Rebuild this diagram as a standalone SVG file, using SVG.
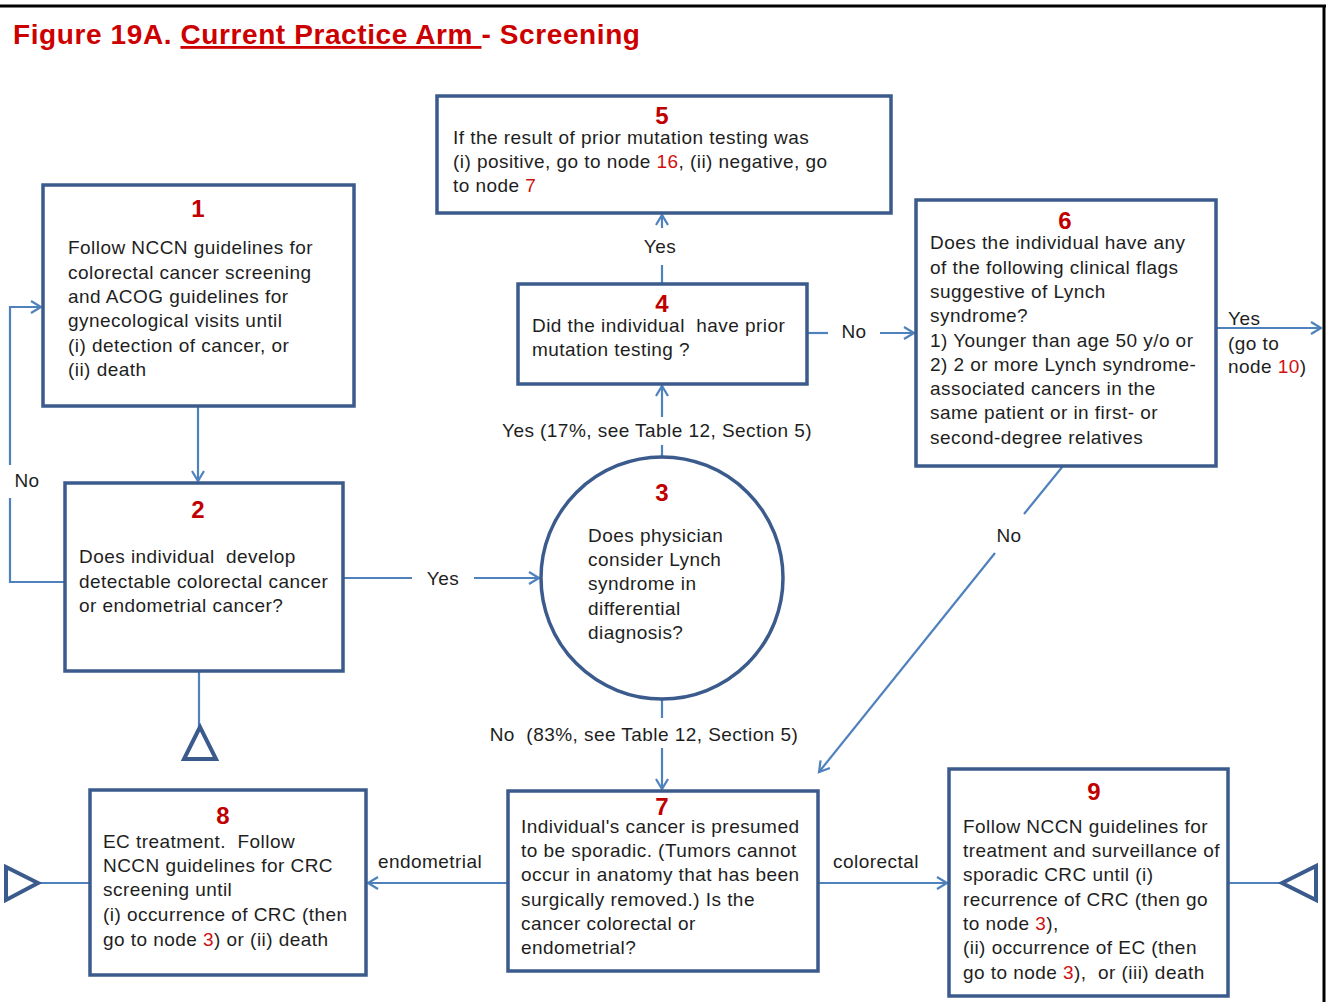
<svg xmlns="http://www.w3.org/2000/svg" width="1327" height="1002" viewBox="0 0 1327 1002">
<style>
.box{fill:#fff;stroke:#3B5B8D;stroke-width:3.5}
.c{fill:none;stroke:#4F81BD;stroke-width:2.2}
.t{font-family:"Liberation Sans",Arial,sans-serif;font-size:19px;letter-spacing:0.45px;fill:#1e1e1e;white-space:pre}
.n{font-family:"Liberation Sans",Arial,sans-serif;font-size:24px;font-weight:bold;fill:#C00000;text-anchor:middle}
.r{fill:#D01010}
.tri{fill:#fff;stroke:#3B5B8D;stroke-width:4}
</style>
<defs>
<marker id="arr" markerWidth="14" markerHeight="14" refX="11" refY="7" orient="auto" markerUnits="userSpaceOnUse">
<path d="M1,1 L11,7 L1,13" fill="none" stroke="#4F81BD" stroke-width="2.2"/>
</marker>
</defs>
<rect width="1327" height="1002" fill="#fff"/>
<line x1="0" y1="6" x2="1326" y2="6" stroke="#000" stroke-width="3"/>
<line x1="1324" y1="5" x2="1324" y2="1002" stroke="#000" stroke-width="3"/>
<g id="title">
<text x="13" y="44" font-family="Liberation Sans,Arial,sans-serif" font-size="28" letter-spacing="0.6" font-weight="bold" fill="#CC0000" style="white-space:pre">Figure 19A. <tspan text-decoration="underline">Current Practice Arm </tspan>- Screening</text>
</g>
<g id="connectors">
<path class="c" d="M198,406 V481" marker-end="url(#arr)"/>
<path class="c" d="M65,582 H10 V498"/>
<path class="c" d="M10,465 V307 H41" marker-end="url(#arr)"/>
<path class="c" d="M343,578 H412"/>
<path class="c" d="M474,578 H539" marker-end="url(#arr)"/>
<path class="c" d="M662,456 V445"/>
<path class="c" d="M662,417 V386" marker-end="url(#arr)"/>
<path class="c" d="M662,284 V265"/>
<path class="c" d="M662,228 V215" marker-end="url(#arr)"/>
<path class="c" d="M807,333 H828"/>
<path class="c" d="M880,333 H914" marker-end="url(#arr)"/>
<path class="c" d="M1216,328 H1321" marker-end="url(#arr)"/>
<path class="c" d="M1063,466 L1024,514"/>
<path class="c" d="M995,553 L819,772" marker-end="url(#arr)"/>
<path class="c" d="M662,700 V718"/>
<path class="c" d="M662,748 V789" marker-end="url(#arr)"/>
<path class="c" d="M508,883 H368" marker-end="url(#arr)"/>
<path class="c" d="M818,883 H947" marker-end="url(#arr)"/>
<path class="c" d="M199,671 V727"/>
<path class="c" d="M90,883 H38"/>
<path class="c" d="M1228,883 H1282"/>
<polygon class="tri" points="200,727 184,759 216,759"/>
<polygon class="tri" points="38,883 6,867 6,900"/>
<polygon class="tri" points="1282,883 1316,866 1316,900"/>
<text class="t" x="27" y="487" text-anchor="middle">No</text>
<text class="t" x="443" y="585" text-anchor="middle">Yes</text>
<text class="t" x="657" y="437" text-anchor="middle">Yes (17%, see Table 12, Section 5)</text>
<text class="t" x="660" y="253" text-anchor="middle">Yes</text>
<text class="t" x="854" y="338" text-anchor="middle">No</text>
<text class="t" x="1228" y="325">Yes</text>
<text class="t" x="1228" y="350">(go to</text>
<text class="t" x="1228" y="373">node <tspan class="r">10</tspan>)</text>
<text class="t" x="1009" y="542" text-anchor="middle">No</text>
<text class="t" x="644" y="741" text-anchor="middle">No  (83%, see Table 12, Section 5)</text>
<text class="t" x="430" y="868" text-anchor="middle">endometrial</text>
<text class="t" x="876" y="868" text-anchor="middle">colorectal</text>
</g>
<g id="node1">
<rect class="box" x="43" y="185" width="311" height="221"/>
<text class="n" x="198" y="217">1</text>
<text class="t" x="68" y="254">Follow NCCN guidelines for</text>
<text class="t" x="68" y="279">colorectal cancer screening</text>
<text class="t" x="68" y="303">and ACOG guidelines for</text>
<text class="t" x="68" y="327">gynecological visits until</text>
<text class="t" x="68" y="352">(i) detection of cancer, or</text>
<text class="t" x="68" y="376">(ii) death</text>
</g>
<g id="node2">
<rect class="box" x="65" y="483" width="278" height="188"/>
<text class="n" x="198" y="518">2</text>
<text class="t" x="79" y="563">Does individual  develop</text>
<text class="t" x="79" y="588">detectable colorectal cancer</text>
<text class="t" x="79" y="612">or endometrial cancer?</text>
</g>
<g id="node3">
<circle class="box" cx="662" cy="578" r="121"/>
<text class="n" x="662" y="501">3</text>
<text class="t" x="588" y="542">Does physician</text>
<text class="t" x="588" y="566">consider Lynch</text>
<text class="t" x="588" y="590">syndrome in</text>
<text class="t" x="588" y="615">differential</text>
<text class="t" x="588" y="639">diagnosis?</text>
</g>
<g id="node4">
<rect class="box" x="518" y="284" width="289" height="100"/>
<text class="n" x="662" y="312">4</text>
<text class="t" x="532" y="332">Did the individual  have prior</text>
<text class="t" x="532" y="356">mutation testing ?</text>
</g>
<g id="node5">
<rect class="box" x="437" y="96" width="454" height="117"/>
<text class="n" x="662" y="124">5</text>
<text class="t" x="453" y="144">If the result of prior mutation testing was</text>
<text class="t" x="453" y="168">(i) positive, go to node <tspan class="r">16</tspan>, (ii) negative, go</text>
<text class="t" x="453" y="192">to node <tspan class="r">7</tspan></text>
</g>
<g id="node6">
<rect class="box" x="916" y="200" width="300" height="266"/>
<text class="n" x="1065" y="229">6</text>
<text class="t" x="930" y="249">Does the individual have any</text>
<text class="t" x="930" y="274">of the following clinical flags</text>
<text class="t" x="930" y="298">suggestive of Lynch</text>
<text class="t" x="930" y="322">syndrome?</text>
<text class="t" x="930" y="347">1) Younger than age 50 y/o or</text>
<text class="t" x="930" y="371">2) 2 or more Lynch syndrome-</text>
<text class="t" x="930" y="395">associated cancers in the</text>
<text class="t" x="930" y="419">same patient or in first- or</text>
<text class="t" x="930" y="444">second-degree relatives</text>
</g>
<g id="node7">
<rect class="box" x="508" y="791" width="310" height="180"/>
<text class="n" x="662" y="815">7</text>
<text class="t" x="521" y="833">Individual's cancer is presumed</text>
<text class="t" x="521" y="857">to be sporadic. (Tumors cannot</text>
<text class="t" x="521" y="881">occur in anatomy that has been</text>
<text class="t" x="521" y="906">surgically removed.) Is the</text>
<text class="t" x="521" y="930">cancer colorectal or</text>
<text class="t" x="521" y="954">endometrial?</text>
</g>
<g id="node8">
<rect class="box" x="90" y="790" width="276" height="185"/>
<text class="n" x="223" y="824">8</text>
<text class="t" x="103" y="848">EC treatment.  Follow</text>
<text class="t" x="103" y="872">NCCN guidelines for CRC</text>
<text class="t" x="103" y="896">screening until</text>
<text class="t" x="103" y="921">(i) occurrence of CRC (then</text>
<text class="t" x="103" y="946">go to node <tspan class="r">3</tspan>) or (ii) death</text>
</g>
<g id="node9">
<rect class="box" x="949" y="769" width="279" height="227"/>
<text class="n" x="1094" y="800">9</text>
<text class="t" x="963" y="833">Follow NCCN guidelines for</text>
<text class="t" x="963" y="857">treatment and surveillance of</text>
<text class="t" x="963" y="881">sporadic CRC until (i)</text>
<text class="t" x="963" y="906">recurrence of CRC (then go</text>
<text class="t" x="963" y="930">to node <tspan class="r">3</tspan>),</text>
<text class="t" x="963" y="954">(ii) occurrence of EC (then</text>
<text class="t" x="963" y="979">go to node <tspan class="r">3</tspan>),  or (iii) death</text>
</g>
</svg>
